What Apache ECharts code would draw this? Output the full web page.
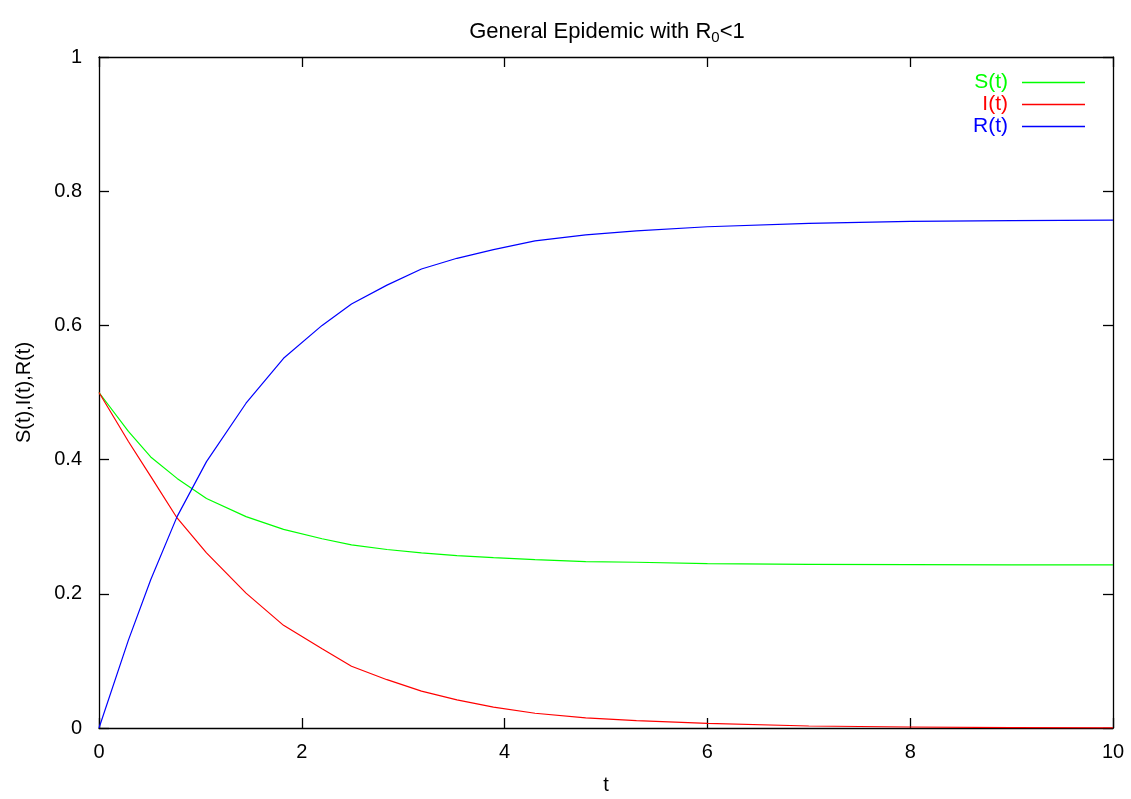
<!DOCTYPE html>
<html>
<head>
<meta charset="utf-8">
<script src="https://cdn.jsdelivr.net/npm/echarts@6/dist/echarts.min.js"></script>
<style>html,body{margin:0;padding:0;background:#fff}#c{width:1131px;height:799px}</style>
</head>
<body>
<div id="c"></div>
<script>
const tValues = [0, 0.29, 0.51, 0.77, 1.06, 1.45, 1.82, 2.2, 2.49, 2.84, 3.18, 3.53, 3.89, 4.3, 4.8, 5.3, 6, 7, 8, 9, 10];
const sValues = [0.5, 0.442, 0.404, 0.372, 0.342, 0.315, 0.296, 0.282, 0.273, 0.266, 0.261, 0.257, 0.254, 0.251, 0.248, 0.247, 0.245, 0.244, 0.2435, 0.243, 0.243];
const iValues = [0.5, 0.427, 0.375, 0.313, 0.261, 0.201, 0.153, 0.118, 0.092, 0.072, 0.055, 0.042, 0.031, 0.022, 0.015, 0.011, 0.007, 0.003, 0.0015, 0.0007, 0.0003];
const rValues = [0, 0.131, 0.221, 0.315, 0.397, 0.484, 0.551, 0.600, 0.632, 0.660, 0.684, 0.700, 0.713, 0.726, 0.735, 0.741, 0.747, 0.752, 0.755, 0.756, 0.757];
const seriesNames = ['S(t)', 'I(t)', 'R(t)'];
const seriesColors = ['#00ff00', '#ff0000', '#0000ff'];

const FONT = '"Liberation Sans", Arial, Helvetica, sans-serif';
const pair = (ys) => tValues.map((t, i) => [t, ys[i]]);
const allY = [sValues, iValues, rValues];

const chart = echarts.init(document.getElementById('c'), null, {renderer: 'canvas'});
const axisLine = {show: true, onZero: false, lineStyle: {color: '#000', width: 1.3}};
const tick = {show: true, inside: true, length: 10, lineStyle: {color: '#000', width: 1.3}};
chart.setOption({
  animation: false,
  backgroundColor: '#fff',
  title: {
    text: 'General Epidemic with R{sub|0}<1',
    left: 602, top: 13, textAlign: 'center',
    textStyle: {
      fontFamily: FONT, fontSize: 22, fontWeight: 'normal', color: '#000',
      rich: {sub: {fontFamily: FONT, fontSize: 15, color: '#000', padding: [12, 0, 0, 0]}}
    }
  },
  legend: {
    right: 41, top: 67, orient: 'vertical', align: 'right',
    itemWidth: 63, itemHeight: 1.5, itemGap: 1, icon: 'rect',
    data: seriesNames.map((n, i) => ({name: n, itemStyle: {color: seriesColors[i]}, textStyle: {color: seriesColors[i]}})),
    textStyle: {fontFamily: FONT, fontSize: 21, padding: [0, 9, 0, 0]}
  },
  grid: {left: 99, right: 18, top: 57, bottom: 71, containLabel: false, outerBoundsMode: 'none'},
  xAxis: [
    {type: 'value', min: 0, max: 10, interval: 2, position: 'bottom',
     name: 't', nameLocation: 'middle', nameGap: 47,
     nameTextStyle: {fontFamily: FONT, fontSize: 20, color: '#000'},
     axisLine, axisTick: tick, splitLine: {show: false},
     axisLabel: {margin: 14, fontFamily: FONT, fontSize: 20, color: '#000'}},
    {type: 'value', min: 0, max: 10, interval: 2, position: 'top',
     axisLine, axisTick: tick, splitLine: {show: false}, axisLabel: {show: false}}
  ],
  yAxis: [
    {type: 'value', min: 0, max: 1, interval: 0.2, position: 'left',
     name: 'S(t),I(t),R(t)', nameLocation: 'middle', nameGap: 65,
     nameTextStyle: {fontFamily: FONT, fontSize: 20, color: '#000'},
     axisLine, axisTick: tick, splitLine: {show: false},
     axisLabel: {margin: 17, fontFamily: FONT, fontSize: 20, color: '#000'}},
    {type: 'value', min: 0, max: 1, interval: 0.2, position: 'right',
     axisLine, axisTick: tick, splitLine: {show: false}, axisLabel: {show: false}}
  ],
  series: seriesNames.map((n, i) => ({
    name: n, type: 'line', data: pair(allY[i]),
    showSymbol: false, symbol: 'none',
    lineStyle: {color: seriesColors[i], width: 1.2},
    itemStyle: {color: seriesColors[i]},
    xAxisIndex: 0, yAxisIndex: 0
  }))
});
</script>
</body>
</html>
